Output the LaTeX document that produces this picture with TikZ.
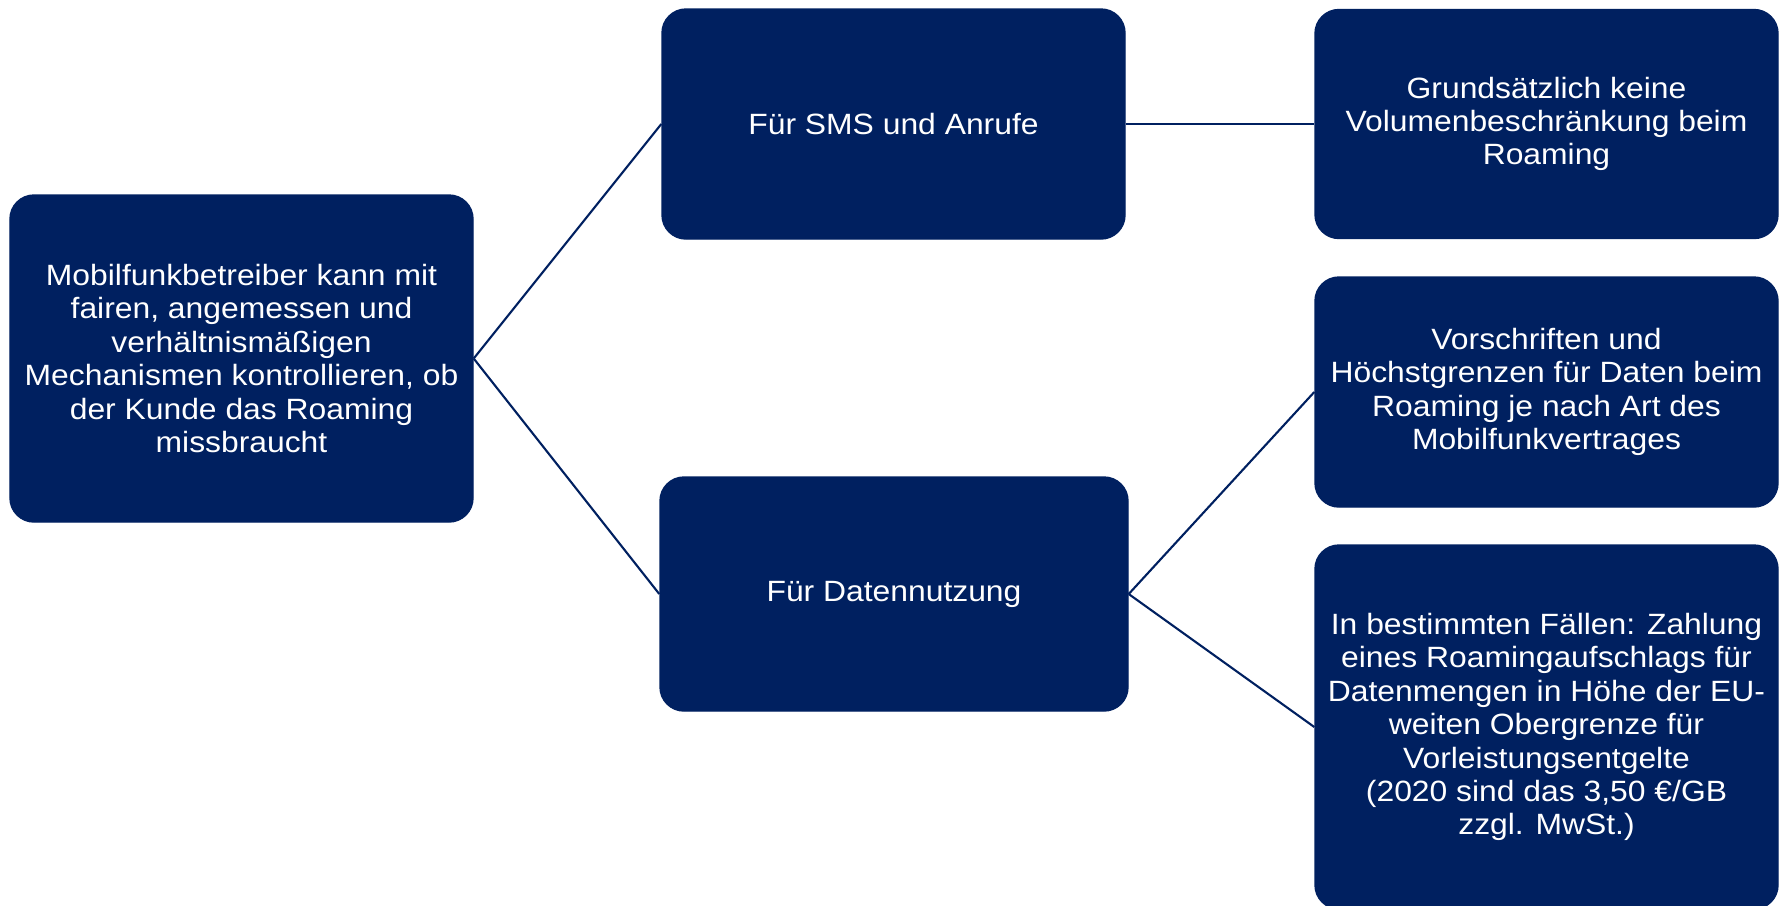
\documentclass[tikz,border=0pt]{standalone}
\usepackage{fontspec}
\setmainfont{Liberation Sans}[FakeStretch=1.085]
\usepackage{tikz}
\usepackage{xcolor}
\definecolor{navy}{RGB}{0,32,96}

\begin{document}
\begin{tikzpicture}[
  kasten/.style={fill=navy,draw=navy,rounded corners=0.24cm,text=white,align=center,
    inner sep=0pt,font=\fontsize{8.35}{9.5}\selectfont},
  verbinder/.style={draw=navy,line width=0.6pt}]
\useasboundingbox (0,0) rectangle (17.81,-9.05);
% linke Spalte
\node[kasten,minimum width=4.63cm,minimum height=3.27cm] (root) at (2.415,-3.585)
  {Mobilfunkbetreiber kann mit\\ fairen, angemessen und\\ verh\"altnism\"a\ss igen\\ Mechanismen kontrollieren, ob\\ der Kunde das Roaming\\ missbraucht};
% mittlere Spalte
\node[kasten,minimum width=4.63cm,minimum height=2.30cm] (sms) at (8.935,-1.24) {F\"ur SMS und Anrufe};
\node[kasten,minimum width=4.68cm,minimum height=2.34cm] (daten) at (8.94,-5.94) {F\"ur Datennutzung};
% rechte Spalte
\node[kasten,minimum width=4.63cm,minimum height=2.29cm] (nolimit) at (15.465,-1.24)
  {Grunds\"atzlich keine\\ Volumenbeschr\"ankung beim\\ Roaming};
\node[kasten,minimum width=4.63cm,minimum height=2.30cm] (regeln) at (15.465,-3.92)
  {Vorschriften und\\ H\"ochstgrenzen f\"ur Daten beim\\ Roaming je nach Art des\\ Mobilfunkvertrages};
\node[kasten,minimum width=4.63cm,minimum height=3.64cm] (aufschlag) at (15.465,-7.27)
  {In bestimmten F\"allen: Zahlung\\ eines Roamingaufschlags f\"ur\\ Datenmengen in H\"ohe der EU-\\ weiten Obergrenze f\"ur\\ Vorleistungsentgelte\\ (2020 sind das 3,50 €/GB\\ zzgl. MwSt.)};

\draw[verbinder] (root.east) -- (sms.west);
\draw[verbinder] (root.east) -- (daten.west);
\draw[verbinder] (sms.east) -- (nolimit.west);
\draw[verbinder] (daten.east) -- (regeln.west);
\draw[verbinder] (daten.east) -- (aufschlag.west);
\end{tikzpicture}
\end{document}
